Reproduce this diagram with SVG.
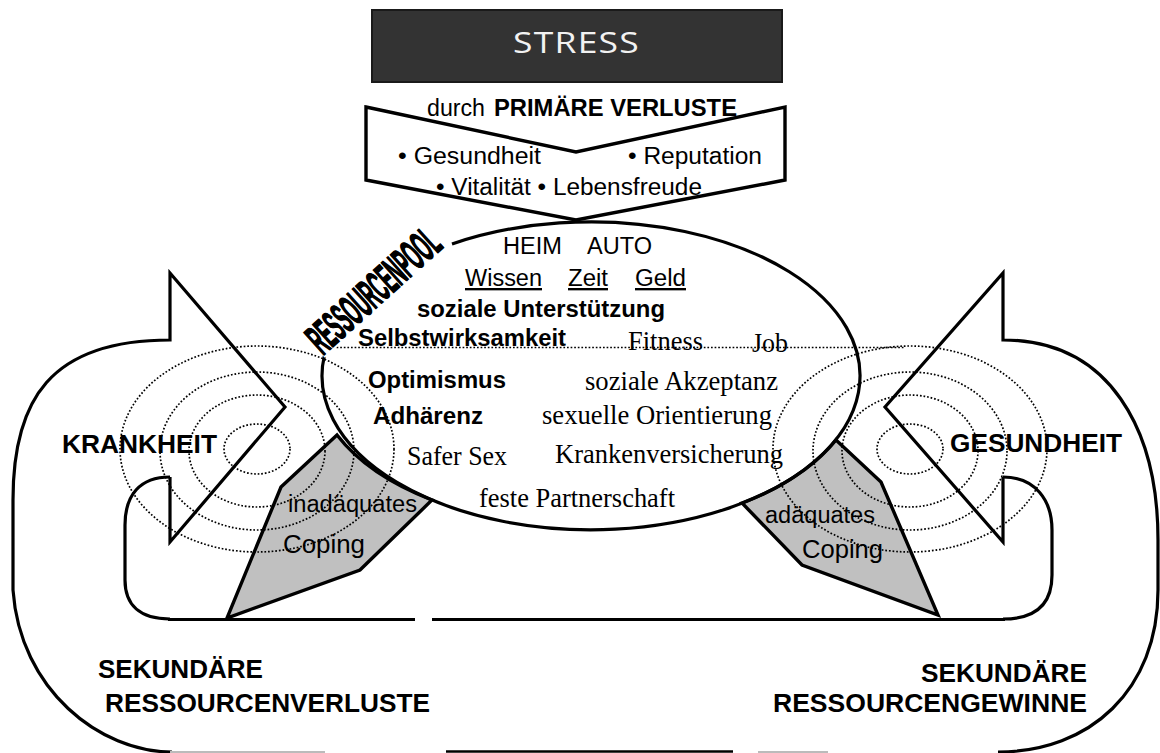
<svg xmlns="http://www.w3.org/2000/svg" width="1160" height="753" viewBox="0 0 1160 753">
<style>
.ln{fill:none;stroke:#000;stroke-width:3.2;stroke-linejoin:miter;stroke-linecap:butt}
.dot{fill:none;stroke:#000;stroke-width:1.7;stroke-dasharray:1.7 1.9}
.cop{fill:#c0c0c0;stroke:#000;stroke-width:3.4;stroke-linejoin:miter}
.s{font-family:"Liberation Sans",Arial,sans-serif;fill:#000}
.b{font-family:"Liberation Sans",Arial,sans-serif;font-weight:bold;fill:#000}
.t{font-family:"Liberation Serif","Times New Roman",serif;fill:#000;font-size:26.5px}
</style>
<rect width="1160" height="753" fill="#fff"/>

<g id="stress">
  <rect x="372" y="10" width="410" height="72" fill="#333" stroke="#1a1a1a" stroke-width="2"/>
  <text x="513" y="53" font-family="'Open Sans','Liberation Sans',sans-serif" font-size="29" fill="#f2f2f2" textLength="127" lengthAdjust="spacingAndGlyphs" letter-spacing="1">STRESS</text>
</g>

<g id="primaere-verluste">
  <polygon points="366,107 576,152 785,107 785,180 576,220 366,180" fill="#fff" stroke="#000" stroke-width="3.4" stroke-linejoin="miter"/>
  <text class="s" x="427" y="116" font-size="23" textLength="58" lengthAdjust="spacingAndGlyphs">durch</text>
  <text class="b" x="494" y="116" font-size="23" textLength="243" lengthAdjust="spacingAndGlyphs">PRIMÄRE VERLUSTE</text>
  <text class="s" x="398" y="164" font-size="23.5" textLength="143" lengthAdjust="spacingAndGlyphs">• Gesundheit</text>
  <text class="s" x="628" y="164" font-size="23.5" textLength="134" lengthAdjust="spacingAndGlyphs">• Reputation</text>
  <text class="s" x="436" y="195" font-size="23.5" textLength="266" lengthAdjust="spacingAndGlyphs">• Vitalität • Lebensfreude</text>
</g>

<g id="inadaequates-coping">
  <path class="cop" d="M337,435 L281,487 L227,618 L360,570 L432,500 A269,154 0 0 1 337,435 Z"/>
</g>
<g id="adaequates-coping">
  <path class="cop" d="M836,440 L881,482 L938,615 L802,565 L742,503 A269,154 0 0 0 836,440 Z"/>
</g>

<g id="krankheit">
  <path class="ln" d="M170,477 L170,542 L285,407 L170,273 L170,340 C50,340 13,400 13,500 L13,590 C20,690 100,752 172,752"/>
  <path class="ln" d="M170,477 C140,477 125,495 125,525 L125,580 C125,605 140,619 170,619"/>
</g>

<g id="gesundheit">
  <path class="ln" d="M1003,477 L1003,542 L885,407 L1003,273 L1003,340 C1110,340 1158,430 1158,540 L1158,590 C1158,690 1090,752 998,752"/>
  <path class="ln" d="M1003,477 C1035,477 1052,500 1052,530 L1052,575 C1052,605 1035,619 1003,619"/>
</g>

<g id="connectors">
  <line class="ln" x1="168" y1="619.5" x2="415" y2="619.5"/>
  <line class="ln" x1="432" y1="619.5" x2="1005" y2="619.5"/>
  <line x1="446" y1="751.5" x2="733" y2="751.5" stroke="#000" stroke-width="2.6"/>
  <line x1="170" y1="752" x2="325" y2="752" stroke="#bbb" stroke-width="2"/>
  <line x1="758" y1="752" x2="828" y2="752" stroke="#bbb" stroke-width="2"/>
</g>

<g id="ressourcenpool">
  <path class="ln" d="M452,244 A269,154 0 1 1 324.5,355"/>
</g>

<g id="rings-left">
  <ellipse class="dot" cx="257" cy="449" rx="33" ry="25"/>
  <ellipse class="dot" cx="257" cy="451" rx="68" ry="56"/>
  <ellipse class="dot" cx="257" cy="451" rx="97" ry="79"/>
  <ellipse class="dot" cx="257" cy="449" rx="137" ry="103"/>
</g>
<g id="rings-right">
  <ellipse class="dot" cx="910" cy="449" rx="33" ry="25"/>
  <ellipse class="dot" cx="910" cy="451" rx="68" ry="56"/>
  <ellipse class="dot" cx="910" cy="451" rx="97" ry="79"/>
  <ellipse class="dot" cx="910" cy="449" rx="137" ry="103"/>
  <line class="dot" x1="333" y1="347.5" x2="905" y2="347.5"/>
</g>

<g id="pool-texts">
  <text class="s" x="503" y="254" font-size="23.5" textLength="59" lengthAdjust="spacingAndGlyphs">HEIM</text>
  <text class="s" x="587" y="254" font-size="23.5" textLength="65" lengthAdjust="spacingAndGlyphs">AUTO</text>
  <text class="s" x="465" y="286" font-size="23.5" text-decoration="underline" textLength="77" lengthAdjust="spacingAndGlyphs">Wissen</text>
  <text class="s" x="568" y="286" font-size="23.5" text-decoration="underline" textLength="40" lengthAdjust="spacingAndGlyphs">Zeit</text>
  <text class="s" x="635" y="286" font-size="23.5" text-decoration="underline" textLength="51" lengthAdjust="spacingAndGlyphs">Geld</text>
  <text class="b" x="417" y="317" font-size="23.5" textLength="248" lengthAdjust="spacingAndGlyphs">soziale Unterstützung</text>
  <text class="b" x="358" y="346" font-size="23.5" textLength="208" lengthAdjust="spacingAndGlyphs">Selbstwirksamkeit</text>
  <text class="t" x="628" y="350" textLength="75" lengthAdjust="spacingAndGlyphs">Fitness</text>
  <text class="t" x="752" y="352" textLength="36" lengthAdjust="spacingAndGlyphs">Job</text>
  <text class="b" x="368" y="388" font-size="23.5" textLength="138" lengthAdjust="spacingAndGlyphs">Optimismus</text>
  <text class="t" x="585" y="390" textLength="193" lengthAdjust="spacingAndGlyphs">soziale Akzeptanz</text>
  <text class="b" x="373" y="424" font-size="23.5" textLength="110" lengthAdjust="spacingAndGlyphs">Adhärenz</text>
  <text class="t" x="542" y="424" textLength="230" lengthAdjust="spacingAndGlyphs">sexuelle Orientierung</text>
  <text class="t" x="407" y="465" textLength="100" lengthAdjust="spacingAndGlyphs">Safer Sex</text>
  <text class="t" x="555" y="463" textLength="228" lengthAdjust="spacingAndGlyphs">Krankenversicherung</text>
  <text class="t" x="479" y="507" textLength="196" lengthAdjust="spacingAndGlyphs">feste Partnerschaft</text>
  <text class="b" transform="translate(323,356) rotate(-42)" x="0" y="0" font-size="44" textLength="163" lengthAdjust="spacingAndGlyphs" stroke="#fff" stroke-width="5" paint-order="stroke">RESSOURCENPOOL</text>
  <text class="b" transform="translate(323,356) rotate(-42)" x="0" y="0" font-size="44" textLength="163" lengthAdjust="spacingAndGlyphs" stroke="#000" stroke-width="1.3">RESSOURCENPOOL</text>
</g>

<g id="labels">
  <text class="b" x="62" y="453" font-size="26" textLength="155" lengthAdjust="spacingAndGlyphs">KRANKHEIT</text>
  <text class="b" x="950" y="452" font-size="26" textLength="172" lengthAdjust="spacingAndGlyphs">GESUNDHEIT</text>
  <text class="s" x="288" y="512" font-size="23.5" textLength="129" lengthAdjust="spacingAndGlyphs">inadäquates</text>
  <text class="s" x="283" y="553" font-size="26" textLength="82" lengthAdjust="spacingAndGlyphs">Coping</text>
  <text class="s" x="765" y="523" font-size="23.5" textLength="110" lengthAdjust="spacingAndGlyphs">adäquates</text>
  <text class="s" x="802" y="558" font-size="26" textLength="81" lengthAdjust="spacingAndGlyphs">Coping</text>
  <text class="b" x="98" y="678" font-size="26" textLength="165" lengthAdjust="spacingAndGlyphs">SEKUNDÄRE</text>
  <text class="b" x="105" y="712" font-size="26" textLength="325" lengthAdjust="spacingAndGlyphs">RESSOURCENVERLUSTE</text>
  <text class="b" x="921" y="682" font-size="26" textLength="166" lengthAdjust="spacingAndGlyphs">SEKUNDÄRE</text>
  <text class="b" x="773" y="712" font-size="26" textLength="314" lengthAdjust="spacingAndGlyphs">RESSOURCENGEWINNE</text>
</g>
</svg>
